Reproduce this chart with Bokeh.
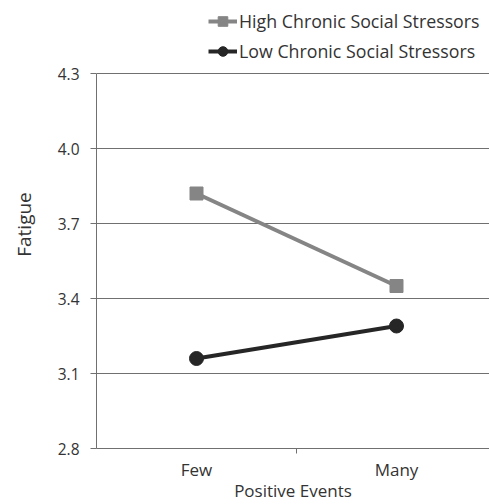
from bokeh.plotting import figure
from bokeh.models import Range1d, FixedTicker, Legend, LegendItem
from bokeh.embed import file_html
from bokeh.resources import INLINE

categories = ["Few", "Many"]
cat_pos = [0.5, 1.5]
high_vals = [3.82, 3.45]
low_vals = [3.16, 3.29]
y_ticks = [2.8, 3.1, 3.4, 3.7, 4.0, 4.3]
y_labels = ["2.8", "3.1", "3.4", "3.7", "4.0", "4.3"]

FONT = "Open Sans"
GRAY = "#858585"
DARK = "#262626"
AX = "#707070"
TXT = "#333333"

p = figure(width=489, height=504, output_backend="svg", toolbar_location=None,
           x_range=Range1d(0, 1.965), y_range=Range1d(2.8, 4.592),
           min_border_left=96, min_border_right=0, min_border_top=0, min_border_bottom=56)
p.outline_line_color = None
p.background_fill_color = "white"

hl = p.line(cat_pos, high_vals, line_color=GRAY, line_width=4)
hs = p.scatter(cat_pos, high_vals, marker="square", size=13, fill_color=GRAY, line_color=GRAY)
ll = p.line(cat_pos, low_vals, line_color=DARK, line_width=4)
lc = p.scatter(cat_pos, low_vals, marker="circle", size=14, fill_color=DARK, line_color=DARK)

# y axis
p.yaxis.bounds = (y_ticks[0], y_ticks[-1])
p.yaxis.ticker = FixedTicker(ticks=y_ticks)
p.yaxis.major_label_overrides = dict(zip(y_ticks, y_labels))
p.yaxis.major_tick_in = 0
p.yaxis.major_tick_out = 6
p.yaxis.minor_tick_out = 0
p.yaxis.minor_tick_in = 0
p.yaxis.axis_line_color = AX
p.yaxis.major_tick_line_color = AX
p.yaxis.major_label_text_font = FONT
p.yaxis.major_label_text_font_size = "15.5px"
p.yaxis.major_label_text_color = TXT
p.yaxis.major_label_standoff = 11
p.yaxis.axis_label = "Fatigue"
p.yaxis.axis_label_text_font = FONT
p.yaxis.axis_label_text_font_size = "19px"
p.yaxis.axis_label_text_font_style = "normal"
p.yaxis.axis_label_text_color = TXT
p.yaxis.axis_label_standoff = 18

# x axis
p.xaxis.ticker = FixedTicker(ticks=cat_pos, minor_ticks=[1.0])
p.xaxis.major_label_overrides = dict(zip(cat_pos, categories))
p.xaxis.major_tick_in = 0
p.xaxis.major_tick_out = 0
p.xaxis.minor_tick_in = 0
p.xaxis.minor_tick_out = 5
p.xaxis.axis_line_color = AX
p.xaxis.minor_tick_line_color = AX
p.xaxis.major_label_text_font = FONT
p.xaxis.major_label_text_font_size = "17px"
p.xaxis.major_label_text_color = TXT
p.xaxis.major_label_standoff = 4
p.xaxis.axis_label = "Positive Events"
p.xaxis.axis_label_text_font = FONT
p.xaxis.axis_label_text_font_size = "17px"
p.xaxis.axis_label_text_font_style = "normal"
p.xaxis.axis_label_text_color = TXT
p.xaxis.axis_label_standoff = -5

p.xgrid.grid_line_color = None
p.ygrid.ticker = FixedTicker(ticks=y_ticks)
p.ygrid.grid_line_color = AX
p.ygrid.grid_line_width = 1

legend = Legend(items=[
    LegendItem(label="High Chronic Social Stressors", renderers=[hl, hs]),
    LegendItem(label="Low Chronic Social Stressors", renderers=[ll, lc]),
], location=(112, 385))
legend.border_line_color = None
legend.background_fill_alpha = 0
legend.padding = 0
legend.margin = 0
legend.spacing = 6
legend.glyph_width = 29
legend.glyph_height = 24
legend.label_height = 24
legend.label_standoff = 2
legend.label_text_font = FONT
legend.label_text_font_size = "17.8px"
legend.label_text_color = TXT
p.add_layout(legend, "center")

open("out.html", "w").write(file_html(p, INLINE))
